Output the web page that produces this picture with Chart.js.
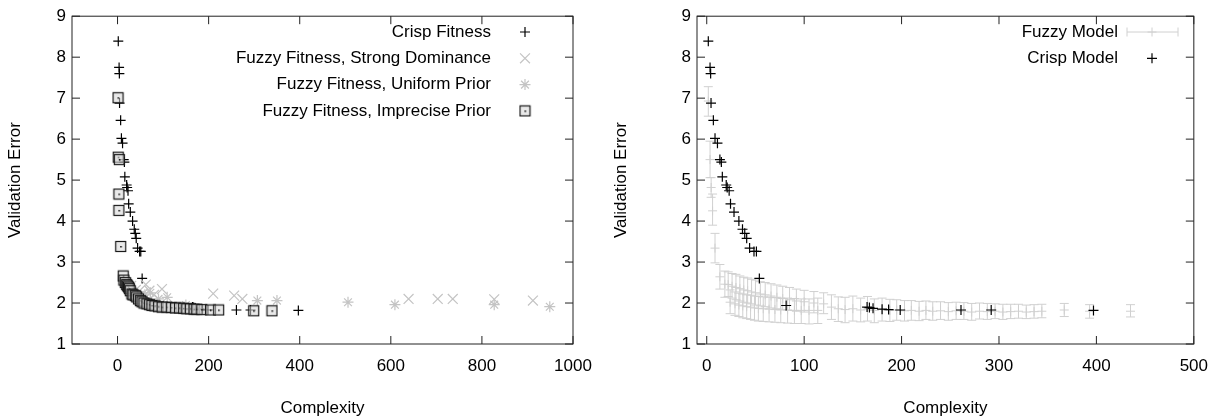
<!DOCTYPE html>
<html>
<head>
<meta charset="utf-8">
<script src="https://cdn.jsdelivr.net/npm/chart.js@4.4.1/dist/chart.umd.min.js"></script>
<style>
    html, body { margin: 0; padding: 0; background: #fff; }
    #wrap { position: relative; width: 1220px; height: 420px; }
    canvas { position: absolute; top: 0; }
</style>
</head>
<body>
<div id="wrap">
    <canvas id="leftChart" width="610" height="420" style="left:0"></canvas>
    <canvas id="rightChart" width="610" height="420" style="left:610px"></canvas>
</div>
<script>
// tick values
const xTicksLeft = [0, 200, 400, 600, 800, 1000];
const xTicksRight = [0, 100, 200, 300, 400, 500];
const yTicks = [1, 2, 3, 4, 5, 6, 7, 8, 9];

// crisp fitness / crisp model (same runs on both panels)
const crispX = [1.6, 3.4, 4, 4.4, 6.8, 8.5, 11, 13.5, 15, 16, 20, 21, 23, 24.4, 28, 33, 36.7, 39, 41, 44, 48.5, 51, 54, 81.5, 164.6, 167, 170.7, 180, 186.7, 198.6, 261, 292, 397];
const crispY = [8.39, 7.75, 7.6, 6.88, 6.46, 6.02, 5.9, 5.5, 5.44, 5.08, 4.88, 4.82, 4.74, 4.42, 4.22, 4.0, 3.8, 3.7, 3.58, 3.34, 3.26, 3.26, 2.6, 1.94, 1.9, 1.89, 1.87, 1.85, 1.84, 1.83, 1.83, 1.83, 1.82];

// fuzzy fitness, strong dominance
const strongX = [20, 30, 40, 55, 62, 70, 80, 97.5, 210, 256, 274, 639, 703, 736, 827, 912];
const strongY = [2.5, 2.42, 2.32, 2.22, 2.45, 2.3, 2.2, 2.34, 2.23, 2.18, 2.1, 2.1, 2.1, 2.1, 2.09, 2.06];

// fuzzy fitness, uniform prior
const uniformX = [35, 50, 60, 72, 90, 109, 150, 307, 350, 506, 609, 827, 949];
const uniformY = [2.3, 2.2, 2.2, 2.25, 2.1, 2.14, 1.95, 2.06, 2.06, 2.02, 1.96, 1.96, 1.91];

// fuzzy fitness, imprecise prior
const impreciseX = [1, 1.5, 4, 3, 3, 7, 12.5, 14, 17, 20, 22, 24, 26, 28, 31.6, 34, 39, 42, 46, 50, 53.6, 58, 64.5, 70, 75.5, 82, 90, 98, 108, 118, 127, 136, 145, 152, 160, 168, 174, 185, 204, 222, 299, 339];
const impreciseY = [7.01, 5.56, 5.5, 4.66, 4.26, 3.38, 2.66, 2.56, 2.5, 2.45, 2.42, 2.39, 2.35, 2.3, 2.22, 2.2, 2.18, 2.15, 2.1, 2.06, 2.03, 2.0, 1.98, 1.96, 1.94, 1.93, 1.91, 1.9, 1.9, 1.89, 1.88, 1.88, 1.87, 1.86, 1.86, 1.85, 1.85, 1.84, 1.83, 1.83, 1.81, 1.81];

// fuzzy model: mean with lower / upper error
const fuzzyX = [1.6, 3.4, 4.5, 6, 8.5, 13.5, 18.6,
    22, 26, 30, 34, 38, 42, 46, 50, 55, 60, 66, 72, 78, 85, 92, 100, 110, 120,
    24, 29, 33, 37, 41, 45, 49, 53, 58, 64, 70, 76, 83, 90, 97, 105, 114,
    128, 135, 142, 150, 158, 165, 172, 180, 188, 195, 203, 210, 218, 225, 232, 240, 248, 256, 264, 272, 280, 288, 296, 304, 312, 320, 328, 336, 344, 367, 393, 435];
const fuzzyY = [6.93, 5.5, 4.82, 4.25, 3.34, 2.64, 2.46,
    2.45, 2.41, 2.38, 2.35, 2.32, 2.3, 2.27, 2.25, 2.22, 2.2, 2.17, 2.14, 2.11, 2.08, 2.05, 2.03, 2.0, 1.98,
    2.02, 1.98, 1.95, 1.93, 1.91, 1.9, 1.88, 1.87, 1.86, 1.85, 1.84, 1.83, 1.83, 1.82, 1.82, 1.82, 1.82,
    1.9, 1.86, 1.84, 1.86, 1.83, 1.85, 1.82, 1.84, 1.82, 1.83, 1.81, 1.82, 1.8, 1.82, 1.8, 1.81, 1.79, 1.81, 1.8, 1.78, 1.8, 1.79, 1.8, 1.78, 1.79, 1.8, 1.78, 1.79, 1.8, 1.83, 1.8, 1.8];
const fuzzyLo = [6.56, 5.06, 4.58, 3.9, 2.98, 2.34, 2.14,
    2.16, 2.12, 2.08, 2.05, 2.02, 2.0, 1.98, 1.95, 1.93, 1.91, 1.88, 1.86, 1.84, 1.82, 1.8, 1.78, 1.76, 1.74,
    1.74, 1.7, 1.67, 1.64, 1.62, 1.6, 1.58, 1.56, 1.55, 1.54, 1.53, 1.52, 1.51, 1.5, 1.5, 1.49, 1.5,
    1.6, 1.55, 1.52, 1.56, 1.54, 1.56, 1.52, 1.56, 1.55, 1.58, 1.56, 1.58, 1.57, 1.6, 1.58, 1.6, 1.58, 1.6, 1.6, 1.58, 1.61, 1.6, 1.62, 1.6, 1.62, 1.63, 1.62, 1.63, 1.64, 1.67, 1.63, 1.66];
const fuzzyHi = [7.28, 5.95, 5.06, 4.66, 3.7, 2.94, 2.78,
    2.76, 2.72, 2.7, 2.66, 2.63, 2.61, 2.58, 2.56, 2.52, 2.5, 2.47, 2.44, 2.41, 2.38, 2.34, 2.31, 2.28, 2.25,
    2.32, 2.27, 2.24, 2.22, 2.2, 2.19, 2.17, 2.16, 2.15, 2.14, 2.13, 2.12, 2.12, 2.11, 2.1, 2.1, 2.12,
    2.2, 2.15, 2.14, 2.17, 2.12, 2.16, 2.1, 2.12, 2.09, 2.08, 2.06, 2.06, 2.04, 2.05, 2.03, 2.03, 2.01, 2.02, 2.01, 1.99, 2.0, 1.99, 1.98, 1.97, 1.97, 1.97, 1.95, 1.96, 1.97, 1.99, 1.96, 1.96];

const font = { family: '"Liberation Sans", Arial, sans-serif', size: 17 };
const ink = '#000';
const lightGray = '#c4c4c4';
const barGray = '#d0d0d0';
const boxFill = 'rgba(215,215,215,0.55)';

function points(xs, ys) {
    return xs.map((x, i) => ({ x, y: ys[i] }));
}

// gnuplot "boxed dot" marker
function boxedDot() {
    const c = document.createElement('canvas');
    c.width = 13;
    c.height = 13;
    const g = c.getContext('2d');
    g.fillStyle = boxFill;
    g.fillRect(1, 1, 11, 11);
    g.strokeStyle = '#1a1a1a';
    g.lineWidth = 1.2;
    g.strokeRect(1.5, 1.5, 10, 10);
    g.fillStyle = '#000';
    g.fillRect(6, 6, 1.5, 1.5);
    return c;
}

// border box with inward ticks on all four sides
const framePlugin = {
    id: 'gpFrame',
    beforeDatasetsDraw(chart) {
        const { ctx, chartArea: a, scales: { x, y } } = chart;
        const len = 8;
        ctx.save();
        ctx.strokeStyle = '#222';
        ctx.lineWidth = 1;
        ctx.beginPath();
        x.ticks.forEach((t) => {
            const px = x.getPixelForValue(t.value);
            ctx.moveTo(px, a.bottom);
            ctx.lineTo(px, a.bottom - len);
            ctx.moveTo(px, a.top);
            ctx.lineTo(px, a.top + len);
        });
        y.ticks.forEach((t) => {
            const py = y.getPixelForValue(t.value);
            ctx.moveTo(a.left, py);
            ctx.lineTo(a.left + len, py);
            ctx.moveTo(a.right, py);
            ctx.lineTo(a.right - len, py);
        });
        ctx.stroke();
        ctx.strokeRect(a.left, a.top, a.right - a.left, a.bottom - a.top);
        ctx.restore();
    },
};

// vertical error bars for the fuzzy model
const errorBarPlugin = {
    id: 'errorBars',
    beforeDatasetsDraw(chart) {
        const { ctx, chartArea: a, scales: { x, y } } = chart;
        const cap = 4.5;
        ctx.save();
        ctx.beginPath();
        ctx.rect(a.left, a.top, a.right - a.left, a.bottom - a.top);
        ctx.clip();
        ctx.strokeStyle = barGray;
        ctx.lineWidth = 1;
        ctx.beginPath();
        fuzzyX.forEach((v, i) => {
            const px = x.getPixelForValue(v);
            const lo = y.getPixelForValue(fuzzyLo[i]);
            const hi = y.getPixelForValue(fuzzyHi[i]);
            ctx.moveTo(px, lo);
            ctx.lineTo(px, hi);
            ctx.moveTo(px - cap, lo);
            ctx.lineTo(px + cap, lo);
            ctx.moveTo(px - cap, hi);
            ctx.lineTo(px + cap, hi);
        });
        ctx.stroke();
        ctx.restore();
    },
};

// key in the top right corner, text first and sample after it
function gpLegend(textRight, markerX, firstY, step, lineSample) {
    return {
        id: 'gpLegend',
        afterDatasetsDraw(chart) {
            const ctx = chart.ctx;
            ctx.save();
            chart.data.datasets.forEach((ds, i) => {
                const yy = firstY + i * step;
                ctx.font = `${font.size}px ${font.family}`;
                ctx.textAlign = 'right';
                ctx.textBaseline = 'middle';
                ctx.fillStyle = ink;
                ctx.fillText(ds.label, textRight, yy);

                ctx.strokeStyle = ds.borderColor;
                ctx.fillStyle = ds.backgroundColor;
                ctx.lineWidth = ds.borderWidth || 1;
                if (lineSample && lineSample[i]) {
                    ctx.beginPath();
                    ctx.moveTo(markerX - 25, yy);
                    ctx.lineTo(markerX + 26, yy);
                    ctx.moveTo(markerX - 25, yy - 4.5);
                    ctx.lineTo(markerX - 25, yy + 4.5);
                    ctx.moveTo(markerX + 26, yy - 4.5);
                    ctx.lineTo(markerX + 26, yy + 4.5);
                    ctx.stroke();
                }
                Chart.helpers.drawPoint(ctx, {
                    pointStyle: ds.pointStyle,
                    radius: ds.pointRadius,
                    borderWidth: ds.borderWidth || 1,
                    rotation: 0,
                }, markerX, yy);
            });
            ctx.restore();
        },
    };
}

function xScale(min, max, ticks) {
    return {
        type: 'linear',
        min,
        max,
        afterBuildTicks: (axis) => { axis.ticks = ticks.map((v) => ({ value: v })); },
        afterFit: (axis) => { axis.height = 76; },
        grid: { display: false, drawTicks: false },
        border: { display: false },
        ticks: {
            color: ink,
            font,
            padding: 12,
            maxRotation: 0,
            autoSkip: false,
            callback: (v) => String(v),
        },
        title: { display: true, text: 'Complexity', color: ink, font, padding: { top: 0, bottom: 1 } },
    };
}

function yScale(width, titlePad) {
    return {
        type: 'linear',
        min: 1,
        max: 9,
        afterBuildTicks: (axis) => { axis.ticks = yTicks.map((v) => ({ value: v })); },
        afterFit: (axis) => { axis.width = width; },
        grid: { display: false, drawTicks: false },
        border: { display: false },
        ticks: { color: ink, font, padding: 6, callback: (v) => String(v) },
        title: { display: true, text: 'Validation Error', color: ink, font, padding: { top: titlePad, bottom: 0 } },
    };
}

const baseOptions = {
    responsive: false,
    animation: false,
    events: [],
    plugins: {
        legend: { display: false },
        tooltip: { enabled: false },
    },
};

new Chart(document.getElementById('leftChart'), {
    type: 'scatter',
    data: {
        datasets: [
            {
                label: 'Crisp Fitness',
                data: points(crispX, crispY),
                pointStyle: 'cross',
                pointRadius: 5,
                borderColor: ink,
                backgroundColor: ink,
                borderWidth: 1.2,
                order: 4,
            },
            {
                label: 'Fuzzy Fitness, Strong Dominance',
                data: points(strongX, strongY),
                pointStyle: 'crossRot',
                pointRadius: 7,
                borderColor: lightGray,
                backgroundColor: lightGray,
                borderWidth: 1.2,
                order: 3,
            },
            {
                label: 'Fuzzy Fitness, Uniform Prior',
                data: points(uniformX, uniformY),
                pointStyle: 'star',
                pointRadius: 5.5,
                borderColor: lightGray,
                backgroundColor: lightGray,
                borderWidth: 1.2,
                order: 2,
            },
            {
                label: 'Fuzzy Fitness, Imprecise Prior',
                data: points(impreciseX, impreciseY),
                pointStyle: boxedDot(),
                pointRadius: 6,
                borderColor: '#1a1a1a',
                backgroundColor: boxFill,
                borderWidth: 1,
                order: 1,
            },
        ],
    },
    options: {
        ...baseOptions,
        layout: { padding: { left: 0, right: 37, top: 11, bottom: 0 } },
        scales: {
            x: xScale(-100, 1000, xTicksLeft),
            y: yScale(72, 5),
        },
    },
    plugins: [framePlugin, gpLegend(491, 525, 32, 26.3)],
});

new Chart(document.getElementById('rightChart'), {
    type: 'scatter',
    data: {
        datasets: [
            {
                label: 'Fuzzy Model',
                data: points(fuzzyX, fuzzyY),
                pointStyle: 'cross',
                pointRadius: 4.5,
                borderColor: barGray,
                backgroundColor: barGray,
                borderWidth: 1,
                order: 2,
            },
            {
                label: 'Crisp Model',
                data: points(crispX, crispY),
                pointStyle: 'cross',
                pointRadius: 5,
                borderColor: ink,
                backgroundColor: ink,
                borderWidth: 1.2,
                order: 1,
            },
        ],
    },
    options: {
        ...baseOptions,
        layout: { padding: { left: 0, right: 22, top: 11, bottom: 0 } },
        scales: {
            x: xScale(-10, 500, xTicksRight),
            y: yScale(87, 1),
        },
    },
    plugins: [errorBarPlugin, framePlugin, gpLegend(508, 542, 32, 26.3, [true, false])],
});
</script>
</body>
</html>
